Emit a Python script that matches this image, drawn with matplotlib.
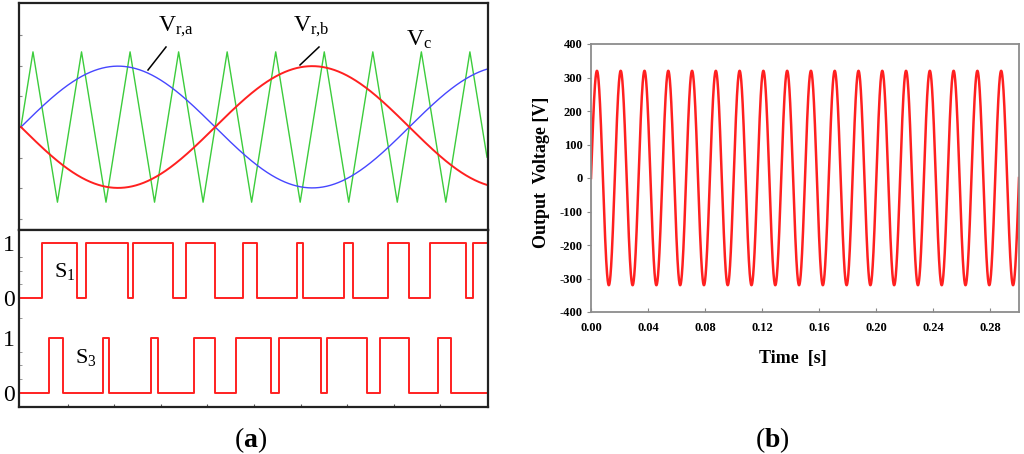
import numpy as np
import matplotlib
matplotlib.use('Agg')
import matplotlib.pyplot as plt
from matplotlib.lines import Line2D

plt.rcParams['font.family'] = ['Liberation Serif', 'DejaVu Serif']
plt.rcParams['mathtext.fontset'] = 'custom'
plt.rcParams['mathtext.rm'] = 'Liberation Serif'
plt.rcParams['mathtext.it'] = 'Liberation Serif:italic'
plt.rcParams['mathtext.bf'] = 'Liberation Serif:bold'

# ---------------- data: panel (a) (time in reference periods) ----------------
ref_amplitude = 0.81          # modulation index (carrier peak = 1)
ref_cycles = 1.2              # shown span of the reference wave
ref_phase_a_deg = 0.0
ref_phase_b_deg = 180.0

carrier_t = [0.0, 0.031, 0.094, 0.156, 0.219, 0.281, 0.344, 0.406, 0.469,
             0.531, 0.594, 0.656, 0.719, 0.781, 0.844, 0.906, 0.969, 1.031,
             1.094, 1.156, 1.2]
carrier_v = [0, 1, -1, 1, -1, 1, -1, 1, -1, 1, -1, 1, -1, 1, -1, 1, -1, 1,
             -1, 1, -0.4]

s1_edges = [0.054, 0.144, 0.168, 0.276, 0.289, 0.392, 0.425, 0.500, 0.572,
            0.608, 0.711, 0.727, 0.832, 0.856, 0.946, 1.000, 1.054, 1.147,
            1.165]
s1_start = 0
s3_edges = [0.072, 0.108, 0.211, 0.227, 0.335, 0.353, 0.446, 0.500, 0.554,
            0.644, 0.665, 0.773, 0.789, 0.892, 0.925, 1.000, 1.075, 1.108]
s3_start = 0

# ---------------- data: panel (b) ----------------
out_amplitude = 320.0
out_freq = 60.0
out_t_end = 0.30
b_yticks = [400, 300, 200, 100, 0, -100, -200, -300, -400]
b_xticks = [0.00, 0.04, 0.08, 0.12, 0.16, 0.20, 0.24, 0.28]

# ---------------- figure ----------------
W, H = 1024, 454
fig = plt.figure(figsize=(W / 100, H / 100), dpi=100)


def fx(x):
    return x / W


def fy(y):
    return 1 - y / H


def box(x0, y0, x1, y1):
    return [fx(x0), fy(y1), fx(x1) - fx(x0), fy(y0) - fy(y1)]


RED = '#ff2020'
BLUE = '#4646ff'
GREEN = '#3ccc3c'

# top subplot of (a)
ax1 = fig.add_axes(box(19, 3, 488, 230))
t = np.linspace(0, ref_cycles, 2000)
va = ref_amplitude * np.sin(2 * np.pi * t + np.deg2rad(ref_phase_a_deg))
vb = ref_amplitude * np.sin(2 * np.pi * t + np.deg2rad(ref_phase_b_deg))
ax1.plot(carrier_t, carrier_v, color=GREEN, lw=1.0)
ax1.plot(t, va, color=BLUE, lw=1.0)
ax1.plot(t, vb, color=RED, lw=1.4)
ax1.set_xlim(-0.005, 1.2026)
ax1.set_ylim(-1.37, 1.65)
ax1.set_xticks([])
ax1.set_yticks([-1.22, -0.81, -0.41, 0, 0.41, 0.81, 1.22])
ax1.set_yticklabels([])
ax1.tick_params(axis='y', direction='in', length=2.5, color='#888888')
for s in ax1.spines.values():
    s.set_linewidth(1.6)
    s.set_color('#222222')

# bottom subplot of (a)
ax2 = fig.add_axes(box(19, 230, 488, 407))
s1_off = 1.71


def step_series(start, edges, end):
    times = [0.0] + list(edges) + [end]
    levels = []
    lv = start
    for _ in range(len(times) - 1):
        levels.append(lv)
        lv = 1 - lv
    levels.append(levels[-1])
    return np.array(times), np.array(levels, dtype=float)


ts1, l1 = step_series(s1_start, s1_edges, ref_cycles)
ts3, l3 = step_series(s3_start, s3_edges, ref_cycles)
ax2.step(ts1, l1 + s1_off, where='post', color=RED, lw=1.4)
ax2.step(ts3, l3, where='post', color=RED, lw=1.4)
ax2.set_xlim(-0.005, 1.2026)
ax2.set_ylim(-0.25, 2.94)
ax2.set_yticks([0, 1, s1_off, s1_off + 1])
ax2.set_yticklabels(['0', '1', '0', '1'])
ax2.tick_params(axis='y', length=0, pad=3, labelsize=17)
ax2.set_yticks([0.25, 0.5, 0.75, s1_off + 0.25, s1_off + 0.5, s1_off + 0.75,
                1.35, 2.45], minor=True)
ax2.tick_params(axis='y', which='minor', direction='in', length=2.5,
                color='#888888')
ax2.set_xticks([0.12 * k for k in range(1, 10)])
ax2.set_xticklabels([])
ax2.tick_params(axis='x', direction='in', length=2.5, color='#555555')
for s in ax2.spines.values():
    s.set_linewidth(1.6)
    s.set_color('#222222')

# annotations for (a)
fig.text(fx(176), fy(27), r'$\mathrm{V}_{\mathrm{r{,}a}}$', fontsize=17,
         ha='center', va='center')
fig.text(fx(311), fy(27), r'$\mathrm{V}_{\mathrm{r{,}b}}$', fontsize=17,
         ha='center', va='center')
fig.text(fx(419), fy(40), r'$\mathrm{V}_{\mathrm{c}}$', fontsize=17,
         ha='center', va='center')
fig.add_artist(Line2D([fx(166), fx(148)], [fy(47), fy(70)], color='black',
                      lw=1.1))
fig.add_artist(Line2D([fx(319), fx(300)], [fy(47), fy(65)], color='black',
                      lw=1.1))
fig.text(fx(65), fy(272), r'$\mathrm{S}_{\mathrm{1}}$', fontsize=16,
         ha='center', va='center')
fig.text(fx(86), fy(357), r'$\mathrm{S}_{\mathrm{3}}$', fontsize=16,
         ha='center', va='center')

# panel (b)
ax3 = fig.add_axes(box(591, 44, 1019, 312))
tb = np.linspace(0, out_t_end, 4000)
vout = out_amplitude * np.sin(2 * np.pi * out_freq * tb)
ax3.plot(tb, vout, color=RED, lw=1.8)
ax3.set_xlim(0, out_t_end)
ax3.set_ylim(-400, 400)
ax3.set_yticks(b_yticks)
ax3.set_yticklabels([str(v) for v in b_yticks], fontweight='bold', fontsize=9)
ax3.set_xticks(b_xticks)
ax3.set_xticklabels(['%.2f' % v for v in b_xticks], fontweight='bold',
                    fontsize=9)
ax3.tick_params(axis='y', direction='out', length=3, pad=3, color='#888888')
ax3.tick_params(axis='x', direction='in', length=3, pad=7, color='#888888')
for s in ax3.spines.values():
    s.set_linewidth(1.3)
    s.set_color('#8c8c8c')

fig.text(fx(541), fy(172), 'Output  Voltage [V]', rotation=90, fontsize=13,
         fontweight='bold', ha='center', va='center')
fig.text(fx(793), fy(358), 'Time  [s]', fontsize=13, fontweight='bold',
         ha='center', va='center')

# panel labels
fig.text(fx(251), fy(440), r'($\mathbf{a}$)', fontsize=20, ha='center',
         va='center')
fig.text(fx(772), fy(440), r'($\mathbf{b}$)', fontsize=20, ha='center',
         va='center')

fig.savefig('out.png', dpi=100)
